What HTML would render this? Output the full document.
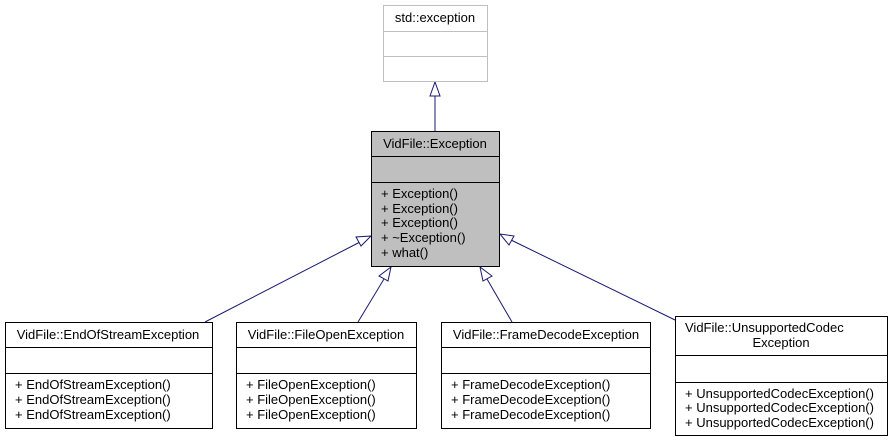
<!DOCTYPE html>
<html><head><meta charset="utf-8"><style>
body{margin:0;background:#fff;width:892px;height:441px;overflow:hidden}
text{font-family:"Liberation Sans",sans-serif;font-size:13px;fill:#000}
</style></head><body>
<svg width="892" height="441" xmlns="http://www.w3.org/2000/svg">
<g stroke="#191970" fill="none" stroke-width="1">
<line x1="435" y1="131" x2="435" y2="95"/>
<polygon points="435,82 430,96 440,96" fill="#fff"/>
<line x1="205" y1="322" x2="360" y2="242"/>
<polygon points="371,236 356,237 361,246" fill="#fff"/>
<line x1="358" y1="322" x2="384" y2="279"/>
<polygon points="391,267 379,276 388,281" fill="#fff"/>
<line x1="512" y1="322" x2="487" y2="279"/>
<polygon points="480,267 483,281 492,276" fill="#fff"/>
<line x1="675" y1="320" x2="511" y2="240"/>
<polygon points="500,234 509,245 514,236" fill="#fff"/>
</g>
<g fill="#fff" stroke="#bfbfbf">
<rect x="383.5" y="5.5" width="104" height="76"/>
<line x1="383.5" y1="31.5" x2="487.5" y2="31.5"/>
<line x1="383.5" y1="56.5" x2="487.5" y2="56.5"/>
</g>
<text x="435" y="22" text-anchor="middle" fill="#000">std::exception</text>
<g stroke="#000" fill="#bfbfbf">
<rect x="371.5" y="131.5" width="128" height="135"/>
<line x1="371.5" y1="156.5" x2="499.5" y2="156.5"/>
<line x1="371.5" y1="182.5" x2="499.5" y2="182.5"/>
</g>
<text x="435" y="148" text-anchor="middle">VidFile::Exception</text>
<text x="381" y="198">+ Exception()</text>
<text x="381" y="213">+ Exception()</text>
<text x="381" y="227">+ Exception()</text>
<text x="381" y="242">+ ~Exception()</text>
<text x="381" y="257">+ what()</text>
<g stroke="#000" fill="#fff">
<rect x="5.5" y="322.5" width="207" height="106"/>
<line x1="5.5" y1="347.5" x2="212.5" y2="347.5"/><line x1="5.5" y1="373.5" x2="212.5" y2="373.5"/>
<rect x="236.5" y="322.5" width="180" height="106"/>
<line x1="236.5" y1="347.5" x2="416.5" y2="347.5"/><line x1="236.5" y1="373.5" x2="416.5" y2="373.5"/>
<rect x="441.5" y="322.5" width="209" height="106"/>
<line x1="441.5" y1="347.5" x2="650.5" y2="347.5"/><line x1="441.5" y1="373.5" x2="650.5" y2="373.5"/>
<rect x="675.5" y="316.5" width="212" height="119"/>
<line x1="675.5" y1="355.5" x2="887.5" y2="355.5"/><line x1="675.5" y1="382.5" x2="887.5" y2="382.5"/>
</g>
<text x="108" y="339" text-anchor="middle">VidFile::EndOfStreamException</text>
<text x="15" y="389">+ EndOfStreamException()</text>
<text x="15" y="404">+ EndOfStreamException()</text>
<text x="15" y="419">+ EndOfStreamException()</text>
<text x="326" y="339" text-anchor="middle">VidFile::FileOpenException</text>
<text x="246" y="389">+ FileOpenException()</text>
<text x="246" y="404">+ FileOpenException()</text>
<text x="246" y="419">+ FileOpenException()</text>
<text x="546" y="339" text-anchor="middle">VidFile::FrameDecodeException</text>
<text x="451" y="389">+ FrameDecodeException()</text>
<text x="451" y="404">+ FrameDecodeException()</text>
<text x="451" y="419">+ FrameDecodeException()</text>
<text x="685" y="332">VidFile::UnsupportedCodec</text>
<text x="781" y="347" text-anchor="middle">Exception</text>
<text x="685" y="398">+ UnsupportedCodecException()</text>
<text x="685" y="412">+ UnsupportedCodecException()</text>
<text x="685" y="427">+ UnsupportedCodecException()</text>
</svg>
</body></html>
